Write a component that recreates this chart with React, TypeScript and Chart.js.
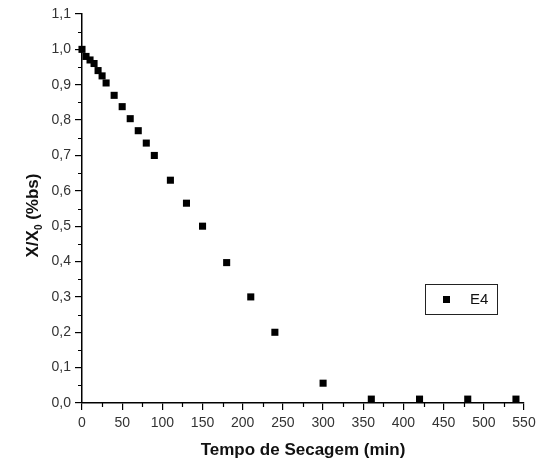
import React, { useEffect, useRef } from "react";
import { Chart, registerables } from "chart.js";

Chart.register(...registerables);

const timeMin = [0, 5, 10, 15, 20, 25, 30, 40, 50, 60, 70, 80, 90, 110, 130, 150, 180, 210, 240, 300, 360, 420, 480, 540];
const ratioE4 = [1.0, 0.98, 0.97, 0.96, 0.94, 0.925, 0.905, 0.87, 0.838, 0.804, 0.77, 0.735, 0.7, 0.63, 0.565, 0.5, 0.397, 0.3, 0.2, 0.056, 0.011, 0.011, 0.011, 0.011];
const seriesLabel = "E4";
const xTickValues = [0, 50, 100, 150, 200, 250, 300, 350, 400, 450, 500, 550];
const yTickValues = [0, 0.1, 0.2, 0.3, 0.4, 0.5, 0.6, 0.7, 0.8, 0.9, 1.0, 1.1];
const xMinorValues = [25, 75, 125, 175, 225, 275, 325, 375, 425, 475, 525];
const yMinorValues = [0.05, 0.15, 0.25, 0.35, 0.45, 0.55, 0.65, 0.75, 0.85, 0.95, 1.05];
const xTitle = "Tempo de Secagem (min)";
const yTitleMain = "X/X";
const yTitleSub = "0";
const yTitleTail = " (%bs)";

const FONT = "'Liberation Sans Narrow', 'Arial Narrow', 'Liberation Sans', Arial, sans-serif";

const decoPlugin = {
  id: "deco",
  afterDraw(chart: any) {
    const ctx = chart.ctx;
    const xs = chart.scales.x;
    const ys = chart.scales.y;
    const area = chart.chartArea;
    ctx.save();
    ctx.strokeStyle = "#000";
    ctx.lineWidth = 1.2;
    // minor ticks
    ctx.beginPath();
    xMinorValues.forEach((v) => {
      const px = Math.round(xs.getPixelForValue(v)) + 0.5;
      ctx.moveTo(px, area.bottom);
      ctx.lineTo(px, area.bottom + 4);
    });
    yMinorValues.forEach((v) => {
      const py = Math.round(ys.getPixelForValue(v)) + 0.5;
      ctx.moveTo(area.left, py);
      ctx.lineTo(area.left - 4, py);
    });
    ctx.stroke();

    // y title with subscript
    ctx.fillStyle = "#111";
    const cx = 33;
    const cy = (area.top + area.bottom) / 2 + 7;
    ctx.translate(cx, cy);
    ctx.rotate(-Math.PI / 2);
    const bold = "bold 17px " + FONT;
    const boldSmall = "bold 10px " + FONT;
    ctx.font = bold;
    const w1 = ctx.measureText(yTitleMain).width;
    const w3 = ctx.measureText(yTitleTail).width;
    ctx.font = boldSmall;
    const w2 = ctx.measureText(yTitleSub).width;
    const total = w1 + w2 + w3;
    let x0 = -total / 2;
    ctx.textBaseline = "middle";
    ctx.textAlign = "left";
    ctx.font = bold;
    ctx.fillText(yTitleMain, x0, 0);
    x0 += w1;
    ctx.font = boldSmall;
    ctx.fillText(yTitleSub, x0, 6);
    x0 += w2;
    ctx.font = bold;
    ctx.fillText(yTitleTail, x0, 0);
    ctx.setTransform(1, 0, 0, 1, 0, 0);

    // legend box
    const ds = chart.data.datasets[0];
    const bx = area.right - 99;
    const by = area.top + 270;
    const bw = 72;
    const bh = 30;
    ctx.strokeStyle = "#222";
    ctx.lineWidth = 1;
    ctx.strokeRect(bx + 0.5, by + 0.5, bw, bh);
    ctx.fillStyle = "#000";
    ctx.fillRect(bx + 18, by + 12, 7, 7);
    ctx.font = "15px " + FONT;
    ctx.fillStyle = "#111";
    ctx.textBaseline = "middle";
    ctx.textAlign = "left";
    ctx.fillText(ds.label, bx + 45, by + 16);
    ctx.restore();
  },
};

export default function App() {
  const ref = useRef<HTMLCanvasElement | null>(null);
  useEffect(() => {
    if (!ref.current) return;
    const chart = new Chart(ref.current, {
      type: "scatter",
      data: {
        datasets: [
          {
            label: seriesLabel,
            data: timeMin.map((t, i) => ({ x: t, y: ratioE4[i] })),
            pointStyle: "rect",
            pointRadius: 5,
            pointHoverRadius: 5,
            backgroundColor: "#000",
            borderColor: "#000",
            borderWidth: 0,
            clip: false,
          } as any,
        ],
      },
      options: {
        animation: false,
        responsive: true,
        maintainAspectRatio: false,
        layout: { padding: { top: 14, right: 20, left: 0, bottom: 0 } },
        plugins: { legend: { display: false }, tooltip: { enabled: false } },
        scales: {
          x: {
            type: "linear",
            min: 0,
            max: 550,
            afterBuildTicks: (scale: any) => {
              scale.ticks = xTickValues.map((v) => ({ value: v }));
            },
            afterFit: (scale: any) => {
              scale.height = 67;
            },
            grid: { display: true, drawOnChartArea: false, drawTicks: true, tickLength: 7, color: "#000", lineWidth: 1.2 },
            border: { display: true, color: "#000", width: 1.5 },
            ticks: {
              color: "#333",
              font: { family: FONT, size: 14 },
              padding: 5,
              maxRotation: 0,
              autoSkip: false,
              callback: (v: any) => String(v),
            },
            title: {
              display: true,
              text: xTitle,
              color: "#111",
              font: { family: FONT, size: 17, weight: "bold" },
              padding: { top: 0, bottom: 9 },
            },
          },
          y: {
            type: "linear",
            min: 0,
            max: 1.1,
            afterBuildTicks: (scale: any) => {
              scale.ticks = yTickValues.map((v) => ({ value: v }));
            },
            afterFit: (scale: any) => {
              scale.width = 82;
            },
            grid: { display: true, drawOnChartArea: false, drawTicks: true, tickLength: 7, color: "#000", lineWidth: 1.2 },
            border: { display: true, color: "#000", width: 1.5 },
            ticks: {
              color: "#333",
              font: { family: FONT, size: 14 },
              padding: 4,
              autoSkip: false,
              callback: (v: any) => Number(v).toFixed(1).replace(".", ","),
            },
          },
        },
      },
      plugins: [decoPlugin],
    });
    return () => chart.destroy();
  }, []);
  return (
    <div style={{ position: "fixed", left: 0, top: 0, width: 544, height: 470, background: "#fff" }}>
      <canvas ref={ref} />
    </div>
  );
}
